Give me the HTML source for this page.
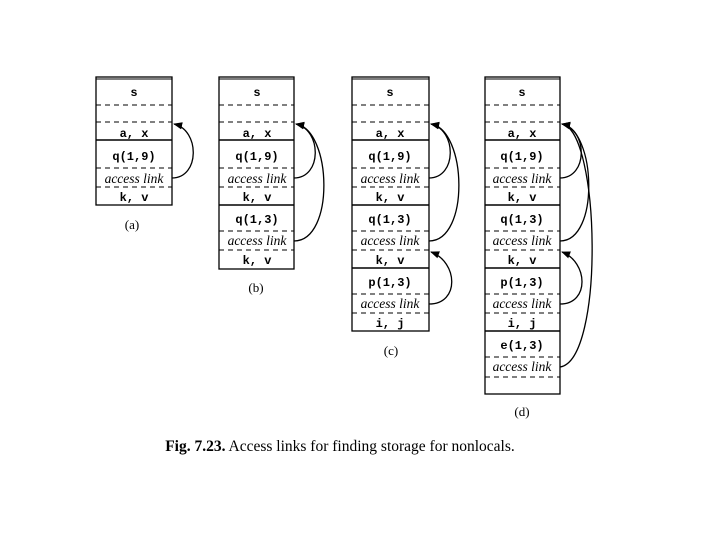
<!DOCTYPE html>
<html><head><meta charset="utf-8"><style>
body{margin:0;background:#fff}
svg{display:block}
.m{font-family:"Liberation Mono",monospace;font-weight:bold;font-size:12px;text-anchor:middle}
.i{font-family:"Liberation Serif",serif;font-style:italic;font-size:13.5px;text-anchor:middle}
.c{font-family:"Liberation Serif",serif;font-size:13px;text-anchor:middle}
.d{stroke:#000;stroke-width:1;stroke-dasharray:5,4}
.s{stroke:#000;stroke-width:1.6}
.a{fill:none;stroke:#000;stroke-width:1.3;marker-end:url(#ah)}
</style></head><body>
<svg width="720" height="540" viewBox="0 0 720 540">
<defs><marker id="ah" viewBox="0 0 10 10" refX="9" refY="5" markerWidth="7" markerHeight="7" orient="auto"><path d="M0,1 L10,5 L0,9 z"/></marker></defs>

<!-- (a) -->
<g>
<rect x="96" y="77" width="76" height="128" fill="none" stroke="#000" stroke-width="1.3"/>
<line x1="96" y1="79" x2="172" y2="79" stroke="#000"/>
<text class="m" x="134" y="96">s</text>
<line class="d" x1="96" y1="105" x2="172" y2="105"/><line class="d" x1="96" y1="122" x2="172" y2="122"/>
<text class="m" x="134" y="137">a, x</text>
<line class="s" x1="96" y1="140" x2="172" y2="140"/>
<text class="m" x="134" y="160">q(1,9)</text>
<line class="d" x1="96" y1="168" x2="172" y2="168"/>
<text class="i" x="134" y="183">access link</text>
<line class="d" x1="96" y1="187" x2="172" y2="187"/>
<text class="m" x="134" y="201">k, v</text>
<path class="a" d="M172,178 C200,178 200,130 174,124"/>
<text class="c" x="132" y="229">(a)</text>
</g>

<!-- (b) -->
<g>
<rect x="219" y="77" width="75" height="192" fill="none" stroke="#000" stroke-width="1.3"/>
<line x1="219" y1="79" x2="294" y2="79" stroke="#000"/>
<text class="m" x="257" y="96">s</text>
<line class="d" x1="219" y1="105" x2="294" y2="105"/><line class="d" x1="219" y1="122" x2="294" y2="122"/>
<text class="m" x="257" y="137">a, x</text>
<line class="s" x1="219" y1="140" x2="294" y2="140"/>
<text class="m" x="257" y="160">q(1,9)</text>
<line class="d" x1="219" y1="168" x2="294" y2="168"/>
<text class="i" x="257" y="183">access link</text>
<line class="d" x1="219" y1="187" x2="294" y2="187"/>
<text class="m" x="257" y="201">k, v</text>
<line class="s" x1="219" y1="205" x2="294" y2="205"/>
<text class="m" x="257" y="223">q(1,3)</text>
<line class="d" x1="219" y1="231" x2="294" y2="231"/>
<text class="i" x="257" y="245">access link</text>
<line class="d" x1="219" y1="250" x2="294" y2="250"/>
<text class="m" x="257" y="264">k, v</text>
<path class="a" d="M294,178 C322,178 322,130 296,124"/>
<path class="a" d="M294,241 C335,241 332,130 296,124"/>
<text class="c" x="256" y="292">(b)</text>
</g>

<!-- (c) -->
<g>
<rect x="352" y="77" width="77" height="254" fill="none" stroke="#000" stroke-width="1.3"/>
<line x1="352" y1="79" x2="429" y2="79" stroke="#000"/>
<text class="m" x="390" y="96">s</text>
<line class="d" x1="352" y1="105" x2="429" y2="105"/><line class="d" x1="352" y1="122" x2="429" y2="122"/>
<text class="m" x="390" y="137">a, x</text>
<line class="s" x1="352" y1="140" x2="429" y2="140"/>
<text class="m" x="390" y="160">q(1,9)</text>
<line class="d" x1="352" y1="168" x2="429" y2="168"/>
<text class="i" x="390" y="183">access link</text>
<line class="d" x1="352" y1="187" x2="429" y2="187"/>
<text class="m" x="390" y="201">k, v</text>
<line class="s" x1="352" y1="205" x2="429" y2="205"/>
<text class="m" x="390" y="223">q(1,3)</text>
<line class="d" x1="352" y1="231" x2="429" y2="231"/>
<text class="i" x="390" y="245">access link</text>
<line class="d" x1="352" y1="250" x2="429" y2="250"/>
<text class="m" x="390" y="264">k, v</text>
<line class="s" x1="352" y1="268" x2="429" y2="268"/>
<text class="m" x="390" y="286">p(1,3)</text>
<line class="d" x1="352" y1="294" x2="429" y2="294"/>
<text class="i" x="390" y="308">access link</text>
<line class="d" x1="352" y1="313" x2="429" y2="313"/>
<text class="m" x="390" y="327">i, j</text>
<path class="a" d="M429,178 C457,178 457,130 431,124"/>
<path class="a" d="M429,241 C470,241 467,130 431,124"/>
<path class="a" d="M429,304 C460,304 458,262 431,252"/>
<text class="c" x="391" y="355">(c)</text>
</g>

<!-- (d) -->
<g>
<rect x="485" y="77" width="75" height="317" fill="none" stroke="#000" stroke-width="1.3"/>
<line x1="485" y1="79" x2="560" y2="79" stroke="#000"/>
<text class="m" x="522" y="96">s</text>
<line class="d" x1="485" y1="105" x2="560" y2="105"/><line class="d" x1="485" y1="122" x2="560" y2="122"/>
<text class="m" x="522" y="137">a, x</text>
<line class="s" x1="485" y1="140" x2="560" y2="140"/>
<text class="m" x="522" y="160">q(1,9)</text>
<line class="d" x1="485" y1="168" x2="560" y2="168"/>
<text class="i" x="522" y="183">access link</text>
<line class="d" x1="485" y1="187" x2="560" y2="187"/>
<text class="m" x="522" y="201">k, v</text>
<line class="s" x1="485" y1="205" x2="560" y2="205"/>
<text class="m" x="522" y="223">q(1,3)</text>
<line class="d" x1="485" y1="231" x2="560" y2="231"/>
<text class="i" x="522" y="245">access link</text>
<line class="d" x1="485" y1="250" x2="560" y2="250"/>
<text class="m" x="522" y="264">k, v</text>
<line class="s" x1="485" y1="268" x2="560" y2="268"/>
<text class="m" x="522" y="286">p(1,3)</text>
<line class="d" x1="485" y1="294" x2="560" y2="294"/>
<text class="i" x="522" y="308">access link</text>
<line class="d" x1="485" y1="313" x2="560" y2="313"/>
<text class="m" x="522" y="327">i, j</text>
<line class="s" x1="485" y1="331" x2="560" y2="331"/>
<text class="m" x="522" y="349">e(1,3)</text>
<line class="d" x1="485" y1="357" x2="560" y2="357"/>
<text class="i" x="522" y="371">access link</text>
<line class="d" x1="485" y1="377" x2="560" y2="377"/>
<path class="a" d="M560,178 C588,178 588,130 562,124"/>
<path class="a" d="M560,241 C600,241 596,130 562,124"/>
<path class="a" d="M560,304 C590,304 588,262 562,252"/>
<path class="a" d="M560,367 C605,360 600,130 562,124"/>
<text class="c" x="522" y="416">(d)</text>
</g>

<text x="340" y="451" style="font-family:'Liberation Serif',serif;font-size:15.5px;text-anchor:middle"><tspan font-weight="bold">Fig. 7.23.</tspan>  Access links for finding storage for nonlocals.</text>
</svg>
</body></html>
